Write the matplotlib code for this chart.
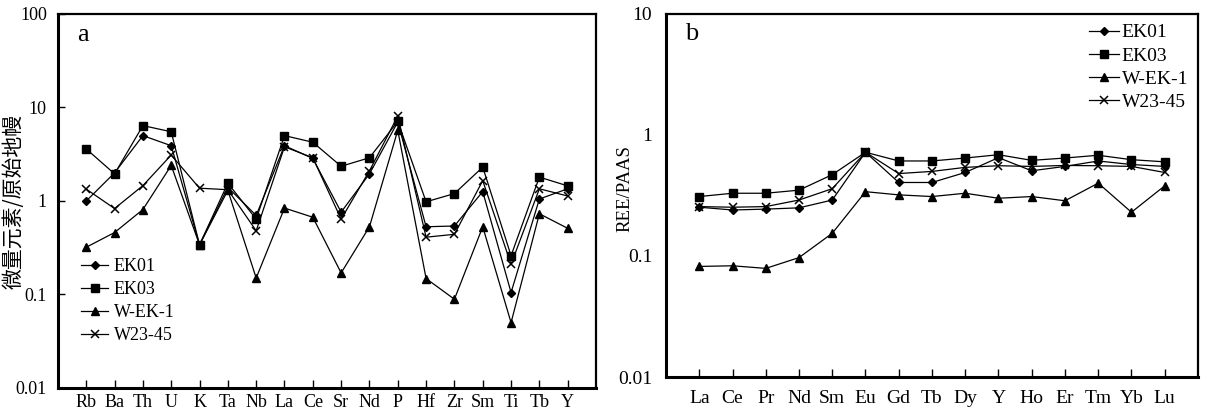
import matplotlib
matplotlib.use("Agg")
import matplotlib.pyplot as plt
from matplotlib.ticker import FixedLocator, FixedFormatter, NullLocator

plt.rcParams['font.family'] = ['Liberation Serif', 'DejaVu Serif']

# ---------------- data ----------------
trace_elems = ["Rb", "Ba", "Th", "U", "K", "Ta", "Nb", "La", "Ce", "Sr",
               "Nd", "P", "Hf", "Zr", "Sm", "Ti", "Tb", "Y"]
a_EK01 = [1.0, 2.0, 5.0, 3.9, 0.34, 1.4, 0.70, 3.9, 2.85, 0.76,
          1.95, 7.0, 0.53, 0.54, 1.26, 0.105, 1.05, 1.35]
a_EK03 = [3.6, 1.95, 6.4, 5.5, 0.34, 1.55, 0.64, 5.0, 4.25, 2.35,
          2.9, 7.1, 0.98, 1.2, 2.3, 0.26, 1.8, 1.45]
a_WEK1 = [0.32, 0.46, 0.81, 2.4, 0.34, 1.3, 0.15, 0.84, 0.67, 0.17,
          0.53, 5.7, 0.148, 0.089, 0.53, 0.05, 0.73, 0.51]
a_W2345 = [1.34, 0.83, 1.46, 3.1, 1.37, 1.32, 0.48, 3.8, 2.9, 0.64,
           2.1, 8.1, 0.41, 0.44, 1.65, 0.21, 1.35, 1.13]

ree_elems = ["La", "Ce", "Pr", "Nd", "Sm", "Eu", "Gd", "Tb", "Dy", "Y",
             "Ho", "Er", "Tm", "Yb", "Lu"]
b_EK01 = [0.253, 0.240, 0.244, 0.250, 0.29, 0.72, 0.405, 0.405, 0.49, 0.65,
          0.506, 0.55, 0.61, 0.57, 0.55]
b_EK03 = [0.31, 0.33, 0.33, 0.35, 0.47, 0.72, 0.61, 0.61, 0.645, 0.687,
          0.617, 0.645, 0.68, 0.625, 0.60]
b_WEK1 = [0.082, 0.083, 0.079, 0.097, 0.154, 0.34, 0.32, 0.31, 0.33, 0.30,
          0.31, 0.286, 0.40, 0.23, 0.38]
b_W2345 = [0.256, 0.253, 0.256, 0.29, 0.36, 0.72, 0.48, 0.50, 0.54, 0.557,
           0.55, 0.56, 0.557, 0.55, 0.49]

series_names = ["EK01", "EK03", "W-EK-1", "W23-45"]
a_ytick_vals = [0.01, 0.1, 1, 10, 100]
a_ytick_lbls = ["0.01", "0.1", "1", "10", "100"]
b_ytick_vals = [0.01, 0.1, 1, 10]
b_ytick_lbls = ["0.01", "0.1", "1", "10"]

styles = [dict(marker='D', ms=4.5),
          dict(marker='s', ms=6),
          dict(marker='^', ms=6),
          dict(marker='x', ms=5.5, mew=1.1)]

fig = plt.figure(figsize=(12.07, 4.11), dpi=100)
axa = fig.add_axes([0.048, 0.056, 0.4458, 0.910])
axb = fig.add_axes([0.5518, 0.0827, 0.4407, 0.8833])


def draw(ax, cats, data, yvals, ylbls, ylim, fs, xpad):
    xs = list(range(1, len(cats) + 1))
    for name, vals, st in zip(series_names, data, styles):
        ax.plot(xs, vals, color='black', lw=0.9, label=name,
                mfc='black', mec='black', **st)
    ax.set_yscale('log')
    ax.set_ylim(*ylim)
    ax.set_xlim(0, len(cats) + 1)
    ax.yaxis.set_major_locator(FixedLocator(yvals))
    ax.yaxis.set_major_formatter(FixedFormatter(ylbls))
    ax.yaxis.set_minor_locator(NullLocator())
    ax.set_xticks(xs)
    ax.set_xticklabels(cats)
    for s in ax.spines.values():
        s.set_linewidth(1.6)
    ax.spines['bottom'].set_linewidth(2.2)
    ax.spines['left'].set_linewidth(2.2)
    ax.tick_params(axis='x', direction='in', length=6, width=1.0,
                   labelsize=fs, pad=xpad)
    ax.tick_params(axis='y', direction='in', length=5, width=1.0,
                   labelsize=fs, pad=8)


draw(axa, trace_elems, [a_EK01, a_EK03, a_WEK1, a_W2345],
     a_ytick_vals, a_ytick_lbls, (0.01, 100), 13, 4)
draw(axb, ree_elems, [b_EK01, b_EK03, b_WEK1, b_W2345],
     b_ytick_vals, b_ytick_lbls, (0.01, 10), 14, 9)
axb.tick_params(axis='y', length=0, pad=10)

axa.text(0.035, 0.972, "a", transform=axa.transAxes, fontsize=19,
         va='top', ha='left')
axb.text(0.035, 0.975, "b", transform=axb.transAxes, fontsize=19,
         va='top', ha='left')

axa.set_ylabel("微量元素/原始地幔", family=['Noto Sans CJK SC', 'DejaVu Sans'],
               fontsize=15)
axa.yaxis.set_label_coords(-0.062, 0.5)
axb.set_ylabel("REE/PAAS", fontsize=13.5)
axb.yaxis.set_label_coords(-0.062, 0.52)

axa.legend(loc='lower left', bbox_to_anchor=(0.0, 0.055), frameon=False,
           fontsize=13, handlelength=1.5, handletextpad=0.3,
           labelspacing=0.33, borderaxespad=0.9)
axb.legend(loc='upper right', bbox_to_anchor=(1.0, 1.0), frameon=False,
           fontsize=14, handlelength=1.55, handletextpad=0.15,
           labelspacing=0.29, borderaxespad=0.1)

fig.savefig("out.png", dpi=100)
